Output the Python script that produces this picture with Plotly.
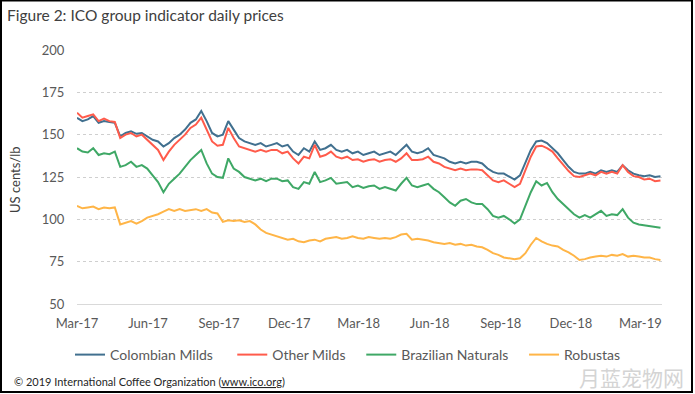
import pandas as pd
import plotly.graph_objects as go

# Weekly readings (Wednesdays) from 1 Mar 2017 to 27 Mar 2019
dates = pd.date_range("2017-03-01", periods=109, freq="7D")

colombian_milds = [
    160, 158, 159, 161, 157, 158, 157.5, 157, 149, 151, 152, 150.5, 151,
    149, 147, 146, 143, 145, 148, 150, 153, 157, 159, 164, 158, 151,
    149, 150, 158, 153, 148, 146, 145, 144, 145, 143, 144, 145, 143,
    144, 140, 138, 142, 140, 146, 141, 142, 144, 141, 140, 141, 139,
    140, 138, 139, 140, 138, 139, 140, 138, 141, 144, 140, 139, 140,
    142, 138, 137, 136, 134, 133, 134, 133, 134, 134, 133, 130, 128,
    127, 127, 125, 123.5, 126, 134, 141, 146, 146.5, 145, 142, 139, 135,
    131, 128, 127, 127, 128, 127, 129, 128, 129, 128, 132, 129, 127,
    126, 125.5, 126, 125, 125.5,
]
other_milds = [
    163, 160, 161, 162, 158, 159.5, 158, 157.5, 148, 150, 151, 149, 150,
    147, 144, 141, 135, 140, 144, 147, 150, 154, 156, 160, 153, 146,
    143.5, 144, 154, 148, 143, 142, 141, 140, 141, 140, 141, 141, 139,
    140, 136, 133, 137, 136, 144, 137, 138, 140, 137, 136, 137, 135,
    135.5, 134, 135, 135.5, 134, 135, 135.5, 134, 136, 139, 135, 135, 135.5,
    137, 134, 133, 131, 130, 129, 130, 129, 129.5, 129.5, 129, 126, 123,
    122, 123, 121, 119, 121, 129, 137, 143, 143.5, 142, 140, 136, 132,
    128.5, 125.5, 125, 126, 127, 126, 128, 127, 128, 127, 132, 128, 125.5,
    125, 123.5, 124, 122.5, 123,
]
brazilian_naturals = [
    142, 140, 139.5, 142, 138, 139, 138.5, 140, 131, 132, 134, 131, 132,
    130, 126, 122, 116, 121, 124, 127, 131, 135, 138, 141, 133, 127,
    125, 124.5, 136, 130, 128, 125, 124, 123, 124, 122.5, 124, 124, 122.5,
    123, 119, 118, 122, 121, 128, 122, 123, 124.5, 121, 121.5, 122, 119,
    120, 118.5, 119.5, 120, 118, 119, 118, 117, 121, 124.5, 120, 119, 120,
    121, 118, 116, 113, 110, 108, 111, 112, 110, 109, 109, 106, 102,
    101, 102, 100, 97.5, 100, 108, 116, 122.5, 120, 121.5, 116, 112, 109,
    106, 103, 101, 102.5, 101, 103, 105, 102, 103, 102.5, 106, 101, 98,
    97, 96.5, 96, 95.5, 95,
]
robustas = [
    108, 106.5, 107, 107.5, 106, 107, 106.5, 107, 97, 98, 99, 97.5, 99,
    101, 102, 103, 104.5, 106, 105, 106, 105, 105.5, 106, 105, 106, 104,
    103.5, 98.5, 99.5, 99, 99.5, 98.5, 99, 97, 94, 92, 91, 90, 89,
    88, 88.5, 87, 86.5, 87.5, 88, 87, 88.5, 89, 89.5, 88.5, 89, 90,
    89, 88.5, 89.5, 89, 88.5, 89, 88.5, 89.5, 91, 91.5, 88, 88.5, 88,
    87.5, 86.5, 86, 85.5, 86, 85, 85.5, 84.5, 85, 84, 83.5, 82, 80,
    79, 77.5, 77, 76.5, 77, 80, 85, 89, 87, 85.5, 84.5, 84, 82,
    80.5, 78.5, 76, 76.5, 77.5, 78, 78.5, 78, 79, 78.5, 79.5, 78, 78.5,
    78, 77.5, 77.5, 76.5, 76,
]

series_names = ["Colombian Milds", "Other Milds", "Brazilian Naturals", "Robustas"]
series_colors = ["#41708F", "#FF5B4B", "#3FA866", "#FFB547"]

tick_dates = ["2017-03-01", "2017-06-01", "2017-09-01", "2017-12-01", "2018-03-01",
              "2018-06-01", "2018-09-01", "2018-12-01", "2019-03-01"]
tick_labels = ["Mar-17", "Jun-17", "Sep-17", "Dec-17", "Mar-18",
               "Jun-18", "Sep-18", "Dec-18", "Mar-19"]
y_ticks = [50, 75, 100, 125, 150, 175, 200]

FONT = "Lato"
GREY = "#595959"

# extra (invisible) trailing padding per legend entry to match the spacing
legend_pad = [4, 3, 3, 0]

fig = go.Figure()
for name, vals, col, pad in zip(series_names,
                                [colombian_milds, other_milds, brazilian_naturals, robustas],
                                series_colors, legend_pad):
    fig.add_trace(go.Scatter(x=dates, y=vals, name=name + "\u00a0" * pad, mode="lines",
                             line=dict(color=col, width=2),
                             hovertemplate=name + ": %{y}<extra></extra>"))

W, H = 695, 394
L, R, T, B = 77, 33, 50, 90
pw, ph = W - L - R, H - T - B

def px(x):
    return (x - L) / pw

def py(y):
    return (H - B - y) / ph

fig.update_layout(
    width=W, height=H,
    margin=dict(l=L, r=R, t=T, b=B),
    paper_bgcolor="white", plot_bgcolor="white",
    font=dict(family=FONT, size=13, color=GREY),
    title=dict(text="Figure 2: ICO group indicator daily prices",
               x=7 / W, xanchor="left", y=1 - 16 / H, yanchor="middle",
               font=dict(family=FONT, size=15.5, color="#404040")),
    showlegend=True,
    legend=dict(orientation="h", x=px(70), xanchor="left",
                y=py(355), yanchor="middle",
                font=dict(family=FONT, size=14, color=GREY),
                bgcolor="rgba(0,0,0,0)"),
    xaxis=dict(range=["2017-03-01", "2019-03-29"], showgrid=False,
               tickvals=tick_dates, ticktext=tick_labels,
               ticks="outside", ticklen=7, tickcolor="rgba(0,0,0,0)",
               showline=True, linecolor="#D9D9D9", linewidth=1,
               zeroline=False, tickfont=dict(size=13, color=GREY)),
    yaxis=dict(range=[50, 200], tickvals=y_ticks,
               showgrid=True, gridcolor="#CFCFCF", griddash="dot", gridwidth=1,
               ticks="outside", ticklen=9, tickcolor="rgba(0,0,0,0)",
               zeroline=False, showline=False, tickfont=dict(size=13, color=GREY)),
)

fig.add_annotation(text="US cents/lb", textangle=-90, xref="paper", yref="paper",
                   x=px(15), y=py(180), xanchor="center", yanchor="middle",
                   showarrow=False, font=dict(family=FONT, size=13, color="#404040"))
fig.add_annotation(text="© 2019 International Coffee Organization (<u>www.ico.org</u>)",
                   xref="paper", yref="paper", x=px(12), y=py(381),
                   xanchor="left", yanchor="middle", showarrow=False,
                   font=dict(family=FONT, size=11, color="#262626"))
fig.add_annotation(text="月蓝宠物网", xref="paper", yref="paper",
                   x=px(686), y=py(377), xanchor="right", yanchor="middle",
                   showarrow=False,
                   font=dict(family="Noto Sans CJK SC", size=21, color="#D4D4D4"))

# outer black frame
fig.add_shape(type="rect", xref="paper", yref="paper",
              x0=px(1), x1=px(692), y0=py(392), y1=py(0.5),
              line=dict(color="black", width=2), fillcolor="rgba(0,0,0,0)",
              layer="above")

fig.write_html("out.html", config={"displayModeBar": False},
               post_script="document.body.style.margin='0';"
                           "document.body.style.overflow='hidden';")
